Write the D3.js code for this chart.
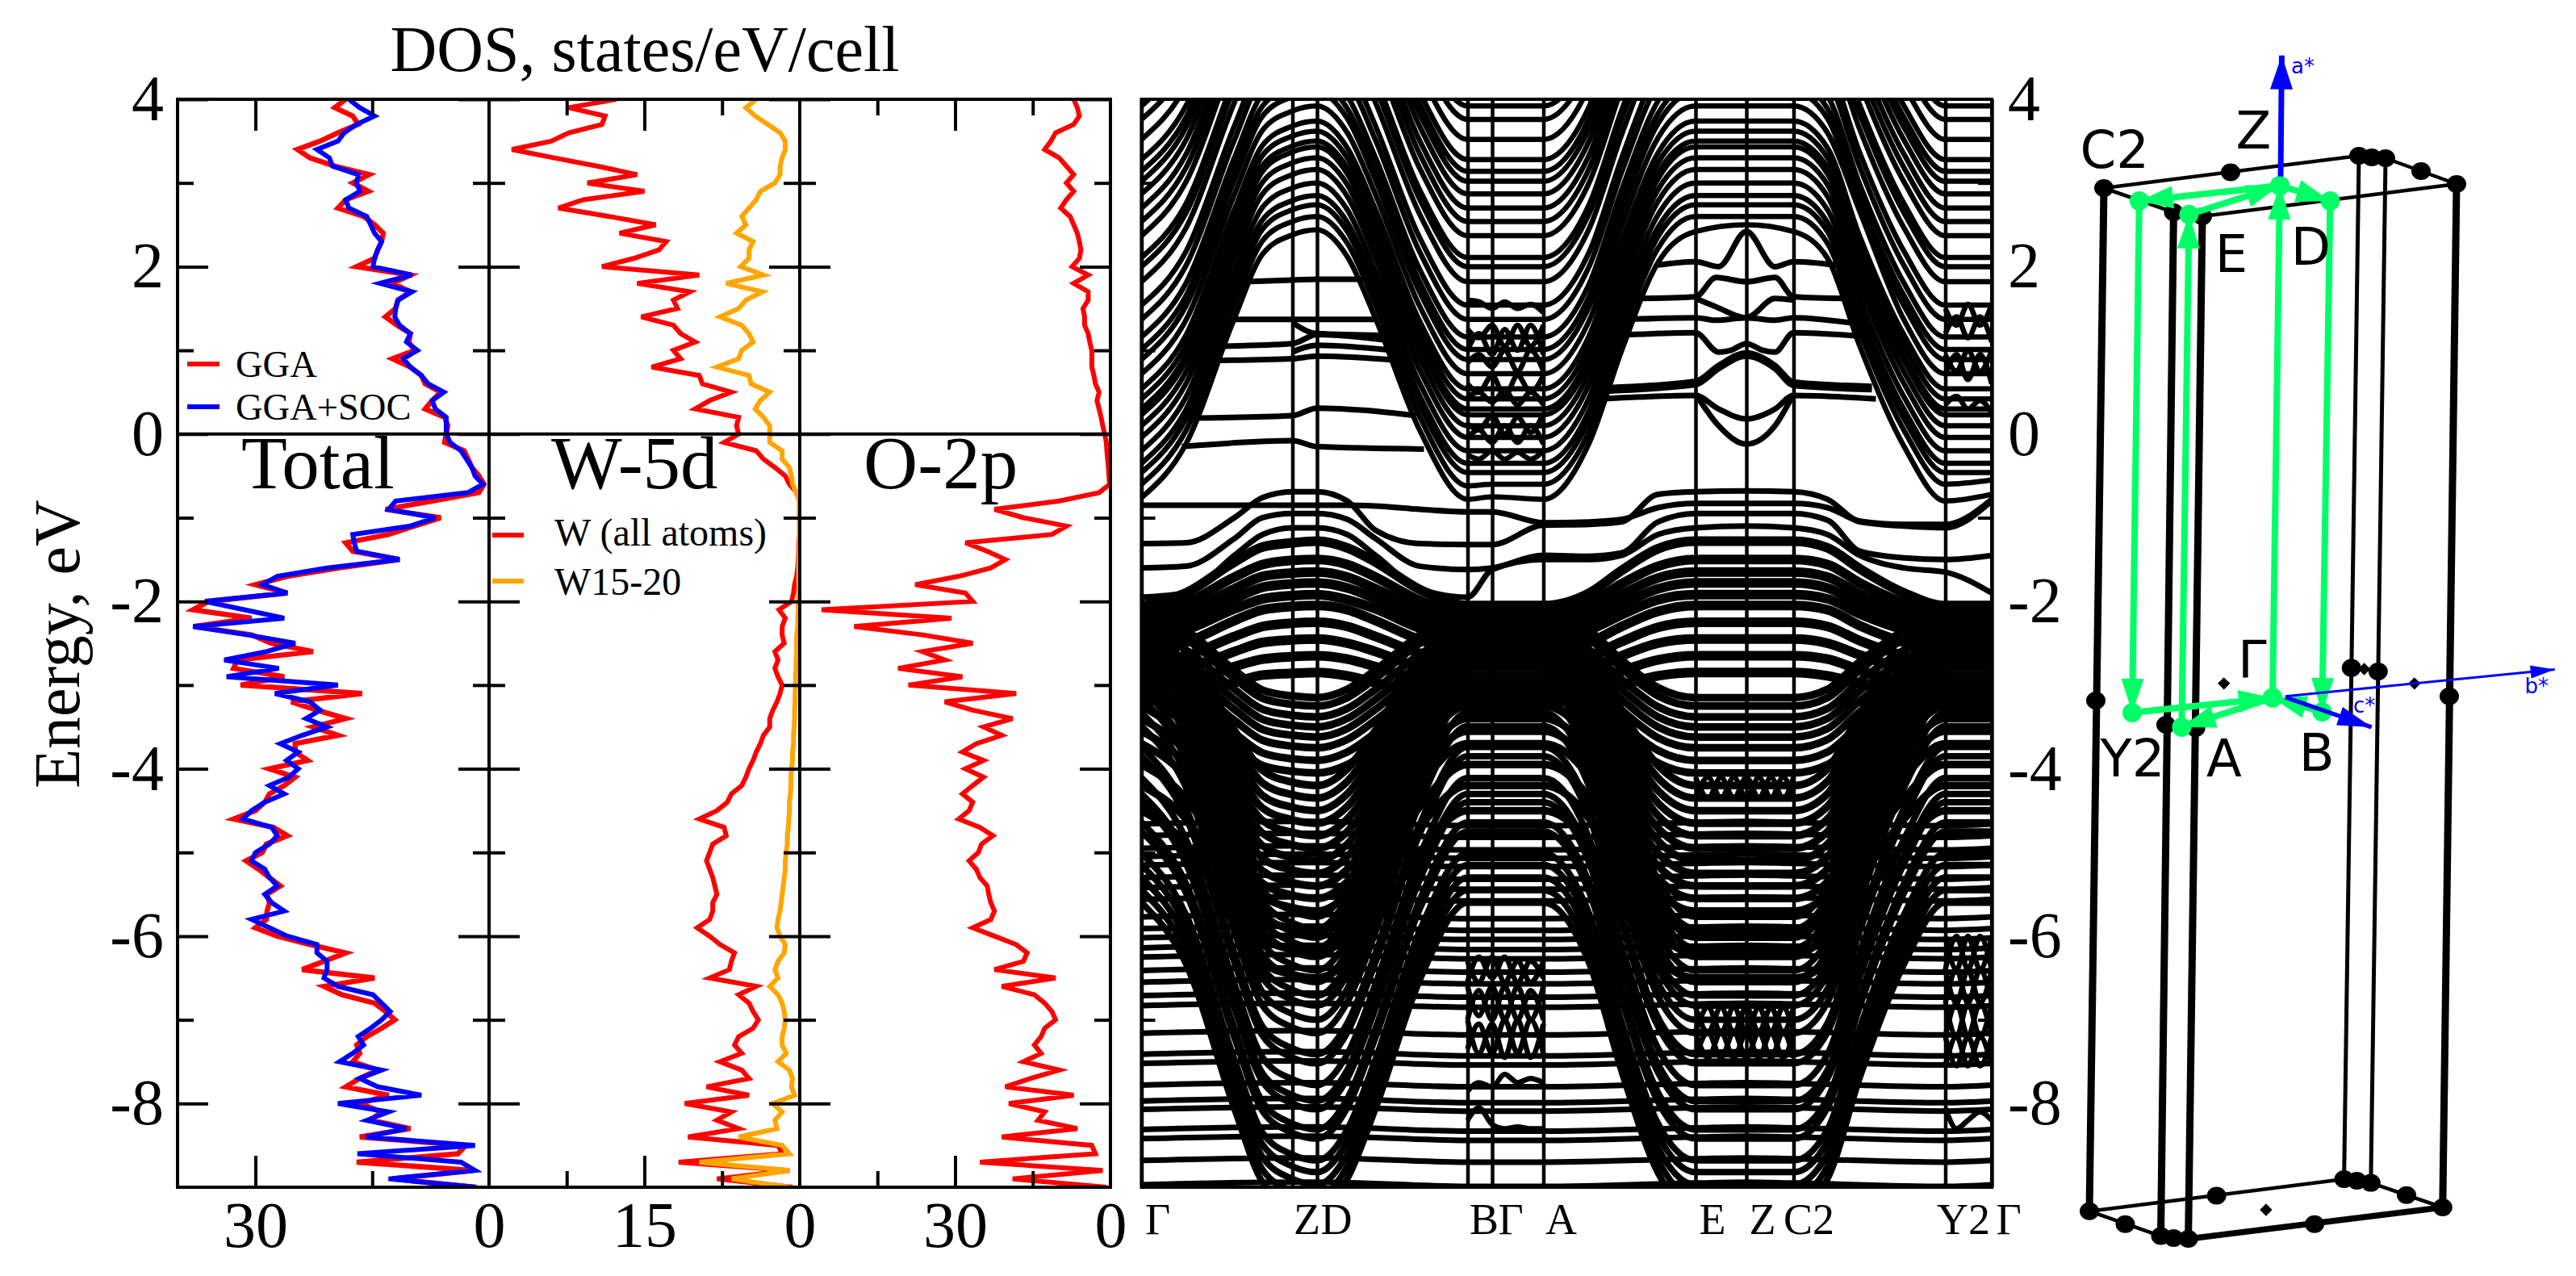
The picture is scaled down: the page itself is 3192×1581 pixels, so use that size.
<!DOCTYPE html>
<html>
<head>
<meta charset="utf-8">
<script src="https://cdn.jsdelivr.net/npm/d3@7"></script>
<style>
  body { margin: 0; background: #fff; }
  svg { display: block; }
  text { font-family: "Liberation Serif", serif; fill: #000; }
</style>
</head>
<body>
<div id="chart"></div>
<script>
// Energy grid shared by the DOS curves (eV)
var energyGrid = [
  4,3.9,3.8,3.7,3.6,3.5,3.4,3.3,3.2,3.1,3,2.9,2.8,2.7,2.6,2.5,2.4,2.3,2.2,2.1,
  2,1.9,1.8,1.7,1.6,1.5,1.4,1.3,1.2,1.1,1,.9,.8,.7,.6,.5,.4,.3,.2,.1,
  0,-.1,-.2,-.3,-.4,-.5,-.6,-.7,-.8,-.9,-1,-1.1,-1.2,-1.3,-1.4,-1.5,-1.6,-1.7,-1.8,-1.9,
  -2,-2.1,-2.2,-2.3,-2.4,-2.5,-2.6,-2.7,-2.8,-2.9,-3,-3.1,-3.2,-3.3,-3.4,-3.5,-3.6,-3.7,-3.8,-3.9,
  -4,-4.1,-4.2,-4.3,-4.4,-4.5,-4.6,-4.7,-4.8,-4.9,-5,-5.1,-5.2,-5.3,-5.4,-5.5,-5.6,-5.7,-5.8,-5.9,
  -6,-6.1,-6.2,-6.3,-6.4,-6.5,-6.6,-6.7,-6.8,-6.9,-7,-7.1,-7.2,-7.3,-7.4,-7.5,-7.6,-7.7,-7.8,-7.9,
  -8,-8.1,-8.2,-8.3,-8.4,-8.5,-8.6,-8.7,-8.8,-8.9,-9
];

// DOS curves, states/eV/cell, one value per energyGrid entry
var dosTotalGGA = [
  18.4,19.8,17.5,16.8,19.4,21.7,24.6,23,19.8,15.4,
  17.5,15.5,18.4,19.4,16.1,14.7,13.6,13.8,14.3,14.7,
  17,10.1,12.4,10.1,11.7,12,13.3,11.8,10.1,10.3,
  9.6,12.4,10.1,8.7,8.2,6.2,7.3,8.2,5.7,5.3,
  5.5,5.7,3.2,2.7,2.2,1.3,.65,1.3,7.3,13.3,
  6.2,9.6,12.9,18.4,17.5,11.5,19.4,25.9,30,25.9,
  36,38,30.5,37.9,30.5,28,22.6,32.3,32.8,26.3,
  31.9,16.3,25.4,22.1,18.4,22.6,19.4,24.9,24.9,23.3,
  28.2,24.9,26.3,28.2,28.8,30,32.8,27.7,25.9,28.6,
  29.1,31.2,29.6,28.2,26.8,28.5,28.2,28.5,28.6,30,
  27.2,23,18.4,21.2,24,14.7,21.2,18.9,14.7,13.3,
  12.1,13.8,15.7,17,16.6,17.5,14.3,16.6,18.4,12.9,
  16.6,13.8,15.2,10.1,16.6,3,4,17,2,12.4,1.8
];
var dosTotalSOC = [
  18,16.6,14.7,17,18.6,19.4,22.1,20.5,20.1,16.8,
  17,16.6,18.4,18,15.7,15.2,14.7,13.8,14.3,14.7,
  14.9,9.9,14,9.9,11.7,12,12.1,11.5,10.1,10.6,
  9.2,11,10.1,8.7,7.8,5.8,7.3,6.9,5.5,5.5,
  5.5,5,3.6,2.9,2.2,1.8,.8,2.7,12,12.9,
  6.9,10.1,17.5,17.3,17,11.5,20.8,27.2,29.1,25.9,
  36.5,31.4,26.3,38,31,24.9,28.6,34,27,33.7,
  19.4,27.5,23,21.7,23.5,20.8,24,26.8,24.5,26,
  24.5,25.7,28.2,26.3,28.8,30.5,31.6,27.9,27.2,28.2,
  30,30.5,28.8,28.2,27.2,28.8,27.9,26.3,30.5,28.2,
  25.9,22.1,22.1,20.8,20.8,21.2,19.4,14.9,13.8,12.7,
  13.8,15.2,16.8,16.1,17.5,19.2,13.8,16.6,14.3,8.7,
  19.4,12.9,15.7,10.6,15.8,1.8,16.9,3.6,1.8,12.9,1.6
];
var dosWAll = [
  17.7,22.3,18.8,19.1,22.3,24,27.8,23.7,19.5,15.7,
  20.5,15,20.9,23.3,18.4,13.9,17.4,12.9,13.6,16,
  19.1,9.7,15.7,10.6,12.2,11.8,15.3,12.2,11.5,10.1,
  12.2,11.5,14.3,9.7,9.4,6.6,8.7,10.1,5.9,6.1,
  5.9,7.3,4.2,3.5,2.4,1.4,1,.3,0,0,
  0,0,0,.1,.1,.15,.2,.3,.5,.6,
  .8,2,1.4,1.7,1.7,1.5,2.4,2.1,2.4,2.1,
  1.7,1.9,2.2,2.6,2.9,2.9,3.5,3.8,4.2,4.5,
  4.9,5.2,5.6,6.6,7,8,9.7,7.3,7.1,8.4,
  8.7,9,8.7,8.4,8.2,8,8.4,8.4,8.7,9.9,
  8.7,7.7,6.3,6.6,6.8,8.7,4.2,5.9,4.9,4.5,
  4,4.5,5.9,6.3,5.6,7.7,5.6,4.9,9,4.9,
  11.1,6.6,8,5.9,10.8,2.1,1.7,11.7,1,8,.7
];
var dosW1520 = [
  4.2,5.2,4.3,3.1,1.9,1.4,1.4,1.7,1.9,1.9,
  2.4,3.8,4.2,4.9,5.6,5.2,6.1,4.5,4.9,4.9,
  5.7,3.5,7.1,3.6,5.2,5.9,7.7,5.6,4.9,4.5,
  5.6,5.9,8,4.9,4.7,2.9,3.8,4.3,3.5,2.9,
  2.9,2.9,1.7,1.7,1,.8,.7,.35,.05,.05,
  .05,.05,.05,.05,.05,.1,.1,.1,.1,.1,
  .15,.15,.2,.2,.3,.3,.3,.35,.35,.4,
  .4,.45,.45,.5,.5,.55,.6,.6,.7,.7,
  .8,.85,.85,.9,1,1,1.05,1.1,1.2,1.2,
  1.3,1.4,1.4,1.5,1.6,1.7,1.8,1.9,2.1,2.2,
  1.9,1.4,1.5,2.1,2.4,2.1,2.9,2.1,1.7,1.5,
  1.4,1.5,1.7,1.7,1.3,2.1,1,.7,.8,.5,
  2.6,1.7,2.4,2.2,5.9,1.7,1,9.7,1,6.6,1
];
var dosO2p = [
  7.1,6.4,6,7.1,10.6,11.5,12.7,9.9,8.5,7.1,
  8.5,7.1,8.5,9.6,7.8,7.1,6.4,6,5.7,6,
  7.4,4.3,7.1,4.3,4.3,5.3,5,5,4.3,4,
  3.6,3.6,3.6,3.2,2.9,2.2,2.6,2.2,1.8,1.5,
  1.1,.8,.7,.55,.4,.3,.15,2.2,9.9,22.4,
  16.8,8.5,11.3,28,23.8,20.3,23.1,29.3,37.7,28,
  26.6,55.8,30.7,49.5,36.3,26.6,36.3,32,41,28.6,
  39,18.2,32,26.6,18.9,24.5,21,25.9,28.6,24.5,
  28,24.5,26.6,28.6,26.6,27.3,29.3,25.2,22.7,24.9,
  25.5,27.3,25.9,25.2,23.8,23.5,23.1,22.4,23.1,26.6,
  22.4,18.2,16.1,16.8,22.4,10.6,21,14.7,12.7,11.3,
  10.6,12.7,13.4,14.7,13.4,16.8,9.9,15.4,20.3,7.1,
  19.6,12.7,14,6.4,21,3.6,2.9,25.2,1.5,18.9,.8
];

// Band path: high symmetry points and where they sit along k
var pathK = [0,187,217.5,404,434.5,498,686.5,749.5,808,996,1053.5];
var pathLabels = ["Γ","Z","D","B","Γ","A","E","Z","C2","Y2","Γ"];

// k nodes for the dispersive bands
var bandK = [0,55,115,150,187,217.5,255,290,345,404,434.5,498,555,595,640,686.5,749.5,808,850,890,945,996,1053.5];

// Conduction side bands, energy at each bandK node (values above 4 run off the panel)
var bandsUpper = [
  [-.76,-.12,1.38,2.15,2.38,2.44,2.12,1.38,.04,-.78,-.75,-.78,-.1,1,2.05,2.42,2.5,2.42,2.1,1.05,-.15,-.8,-.72],
  [-.6,.04,1.54,2.31,2.54,2.6,2.28,1.54,.2,-.62,-.6,-.6,.04,1.16,2.22,2.6,2.6,2.6,2.28,1.22,.04,-.6,-.55],
  [-.46,.18,1.68,2.45,2.68,2.74,2.42,1.68,.34,-.46,-.46,-.46,.18,1.3,2.36,2.74,2.74,2.74,2.42,1.36,.18,-.46,-.46],
  [-.35,.29,1.79,2.56,2.79,2.85,2.53,1.79,.45,-.35,-.35,-.35,.29,1.41,2.47,2.85,2.85,2.85,2.53,1.47,.29,-.35,-.35],
  [-.2,.44,1.94,2.71,2.94,3,2.68,1.94,.6,-.2,-.2,-.2,.44,1.56,2.62,3,3,3,2.68,1.62,.44,-.2,-.2],
  [-.04,.6,2.1,2.87,3.1,3.16,2.84,2.1,.76,-.04,-.04,-.04,.6,1.72,2.78,3.16,3.16,3.16,2.84,1.78,.6,-.04,-.04],
  [.1,.74,2.24,3.01,3.24,3.3,2.98,2.24,.9,.1,.1,.1,.74,1.86,2.92,3.3,3.3,3.3,2.98,1.92,.74,.1,.1],
  [.23,.87,2.37,3.14,3.37,3.43,3.11,2.37,1.03,.23,.23,.23,.87,1.99,3.05,3.43,3.43,3.43,3.11,2.05,.87,.23,.23],
  [.3,.94,2.44,3.21,3.44,3.5,3.18,2.44,1.1,.3,.3,.3,.94,2.06,3.12,3.5,3.5,3.5,3.18,2.12,.94,.3,.3],
  [.42,1.06,2.56,3.33,3.56,3.62,3.3,2.56,1.22,.42,.42,.42,1.06,2.18,3.24,3.62,3.62,3.62,3.3,2.24,1.06,.42,.42],
  [.54,1.18,2.68,3.45,3.68,3.74,3.42,2.68,1.34,.54,.54,.54,1.18,2.3,3.36,3.74,3.74,3.74,3.42,2.36,1.18,.54,.54],
  [.72,1.36,2.86,3.63,3.86,3.92,3.6,2.86,1.52,.72,.72,.72,1.36,2.48,3.54,3.92,3.92,3.92,3.6,2.66,1.36,.72,.72],
  [.89,1.53,3.03,3.8,4.03,4.09,3.77,3.03,1.69,.89,.89,.89,1.53,2.65,3.71,4.09,4.09,4.09,3.77,2.71,1.53,.89,.89],
  [1.01,1.65,3.15,3.92,4.15,4.21,3.89,3.15,1.81,1.01,1.01,1.01,1.65,2.77,3.83,4.21,4.21,4.21,3.89,2.83,1.65,1.01,1.01],
  [1.16,1.8,3.3,4.07,4.3,4.36,4.04,3.3,1.96,1.16,1.16,1.16,1.8,2.92,3.98,4.36,4.36,4.36,4.04,2.98,1.8,1.16,1.16],
  [1.37,2.01,3.51,4.28,4.5,4.57,4.25,3.51,2.17,1.37,1.37,1.37,2.01,3.13,4.19,4.57,4.57,4.57,4.25,3.19,2.01,1.37,1.37],
  [1.54,2.18,3.68,4.45,4.68,4.74,4.42,3.68,2.34,1.54,1.54,1.54,2.18,3.3,4.36,4.74,4.74,4.74,4.42,3.36,2.18,1.54,1.54],
  [1.82,2.46,3.96,4.73,4.96,5.02,4.7,3.96,2.62,1.82,1.82,1.82,2.46,3.58,4.64,5.02,5.02,5.02,4.7,3.64,2.46,1.82,1.82],
  [2,2.64,4.14,4.91,5.14,5.2,4.88,4.14,2.8,2,2,2,2.64,3.76,4.82,5.2,5.2,5.2,4.88,3.82,2.64,2,2],
  [2.11,2.75,4.25,5.02,5.25,5.31,4.99,4.25,2.91,2.11,2.11,2.11,2.75,3.87,4.93,5.31,5.31,5.31,4.99,3.93,2.75,2.11,2.11],
  [2.37,3.01,4.51,5.28,5.51,5.57,5.25,4.51,3.17,2.37,2.37,2.37,3.01,4.13,5.19,5.57,5.57,5.57,5.25,4.19,3.01,2.37,2.37],
  [2.54,3.18,4.68,5.45,5.68,5.74,5.42,4.68,3.34,2.54,2.54,2.54,3.18,4.3,5.36,5.74,5.74,5.74,5.42,4.36,3.18,2.54,2.54],
  [2.7,3.34,4.84,5.61,5.84,5.9,5.58,4.84,3.5,2.7,2.7,2.7,3.34,4.46,5.52,5.9,5.9,5.9,5.58,4.52,3.34,2.7,2.7],
  [2.87,3.51,5.01,5.78,6.01,6.07,5.75,5.01,3.67,2.87,2.87,2.87,3.51,4.63,5.69,6.07,6.07,6.07,5.75,4.69,3.51,2.87,2.87],
  [3.02,3.66,5.16,5.9,6.1,6.2,5.9,5.16,3.82,3.02,3.02,3.02,3.66,4.78,5.8,6.2,6.2,6.2,5.9,4.84,3.66,3.02,3.02],
  [3.14,3.78,5.28,6,6.3,6.3,6,5.28,3.94,3.14,3.14,3.14,3.78,4.9,6,6.3,6.3,6.3,6,4.96,3.78,3.14,3.14],
  [3.28,3.92,5.42,6.2,6.4,6.5,6.2,5.42,4.08,3.28,3.28,3.28,3.92,5.04,6.1,6.5,6.5,6.5,6.2,5.1,3.92,3.28,3.28],
  [3.52,4.16,5.66,6.4,6.7,6.7,6.4,5.66,4.32,3.52,3.52,3.52,4.16,5.28,6.3,6.7,6.7,6.7,6.4,5.34,4.16,3.52,3.52],
  [3.76,4.4,5.9,6.6,6.9,6.9,6.6,5.9,4.56,3.76,3.76,3.76,4.4,5.5,6.5,6.9,6.9,6.9,6.6,5.6,4.4,3.76,3.76],
  [3.92,4.56,6,6.8,7,7,6.8,6,4.7,3.92,3.92,3.92,4.56,5.7,6.7,7,7,7,6.8,5.7,4.56,3.92,3.92]
];

// Top of the valence block: humps under Z-D and E-Z-C2
var bandsHumpTop = [
  [-1.31,-1.3,-1,-.76,-.69,-.69,-.8,-1.15,-1.31,-1.32,-1.32,-1.09,-1.08,-1.05,-.72,-.69,-.68,-.69,-.78,-1.05,-1.1,-1.12,-.8],
  [-.85,-.85,-.85,-.85,-.85,-.85,-.85,-.86,-.9,-.93,-.93,-1.06,-1.05,-1.02,-.88,-.83,-.83,-.83,-.88,-1.04,-1.08,-1.08,-.78],
  [-1.6,-1.58,-1.25,-1,-.95,-.95,-1.02,-1.25,-1.58,-1.62,-1.6,-1.45,-1.46,-1.42,-1.05,-.95,-.95,-.95,-1.03,-1.4,-1.48,-1.5,-1.45],
  [-1.95,-1.9,-1.45,-1.2,-1.12,-1.12,-1.2,-1.45,-1.85,-1.95,-1.62,-1.5,-1.5,-1.45,-1.2,-1.12,-1.1,-1.12,-1.2,-1.45,-1.6,-1.65,-1.9]
];
var bandsHumpLow = [
  [-2.05,-1.9,-1.53,-1.35,-1.3,-1.28,-1.36,-1.53,-1.86,-2.05,-2.05,-2.05,-1.9,-1.63,-1.37,-1.28,-1.28,-1.28,-1.36,-1.61,-1.9,-2.05,-2.05],
  [-2.15,-2.02,-1.71,-1.56,-1.51,-1.5,-1.56,-1.71,-1.99,-2.15,-2.15,-2.15,-2.02,-1.79,-1.58,-1.5,-1.5,-1.5,-1.56,-1.78,-2.02,-2.15,-2.15],
  [-2.25,-2.13,-1.85,-1.7,-1.66,-1.65,-1.71,-1.85,-2.1,-2.25,-2.25,-2.25,-2.13,-1.92,-1.72,-1.65,-1.65,-1.65,-1.71,-1.91,-2.13,-2.25,-2.25],
  [-2.35,-2.24,-1.97,-1.83,-1.79,-1.78,-1.84,-1.97,-2.21,-2.35,-2.35,-2.35,-2.24,-2.04,-1.85,-1.78,-1.78,-1.78,-1.84,-2.03,-2.24,-2.35,-2.35],
  [-2.45,-2.34,-2.09,-1.97,-1.93,-1.92,-1.98,-2.09,-2.32,-2.45,-2.45,-2.45,-2.34,-2.16,-1.98,-1.92,-1.92,-1.92,-1.97,-2.15,-2.34,-2.45,-2.45],
  [-2.6,-2.49,-2.23,-2.1,-2.06,-2.05,-2.1,-2.23,-2.46,-2.6,-2.6,-2.6,-2.49,-2.3,-2.12,-2.05,-2.05,-2.05,-2.1,-2.29,-2.49,-2.6,-2.6],
  [-2.75,-2.65,-2.42,-2.3,-2.26,-2.25,-2.3,-2.42,-2.62,-2.75,-2.75,-2.75,-2.65,-2.48,-2.31,-2.25,-2.25,-2.25,-2.3,-2.47,-2.65,-2.75,-2.75],
  [-2.9,-2.81,-2.6,-2.49,-2.46,-2.45,-2.5,-2.6,-2.79,-2.9,-2.9,-2.9,-2.81,-2.65,-2.5,-2.45,-2.45,-2.45,-2.5,-2.64,-2.81,-2.9,-2.9],
  [-3.05,-2.97,-2.78,-2.69,-2.66,-2.65,-2.69,-2.78,-2.95,-3.05,-3.05,-3.05,-2.97,-2.83,-2.7,-2.65,-2.65,-2.65,-2.69,-2.82,-2.97,-3.05,-3.05],
  [-3.2,-3.13,-2.97,-2.88,-2.86,-2.85,-2.89,-2.97,-3.11,-3.2,-3.2,-3.2,-3.13,-3,-2.89,-2.85,-2.85,-2.85,-2.89,-2.98,-3.13,-3.2,-3.2]
];

// Deep bands that plunge to the panel floor under Z-D and E-Z-C2
var bandsDeep = [
  [-5.6,-6.33,-8.06,-8.94,-9.2,-9.27,-8.9,-8.06,-6.52,-5.6,-5.6,-5.6,-6.33,-7.62,-8.83,-9.27,-9.27,-9.27,-8.9,-7.69,-6.33,-5.6,-5.6],
  [-5.45,-6.18,-7.91,-8.79,-9.05,-9.12,-8.75,-7.91,-6.37,-5.45,-5.45,-5.45,-6.18,-7.47,-8.68,-9.12,-9.12,-9.12,-8.75,-7.54,-6.18,-5.45,-5.45],
  [-5.3,-6.03,-7.76,-8.64,-8.9,-8.97,-8.6,-7.76,-6.22,-5.3,-5.3,-5.3,-6.03,-7.32,-8.53,-8.97,-8.97,-8.97,-8.6,-7.39,-6.03,-5.3,-5.3],
  [-5.15,-5.88,-7.61,-8.49,-8.75,-8.82,-8.45,-7.61,-6.07,-5.15,-5.15,-5.15,-5.88,-7.17,-8.38,-8.82,-8.82,-8.82,-8.45,-7.24,-5.88,-5.15,-5.15],
  [-5.01,-5.74,-7.47,-8.35,-8.61,-8.68,-8.31,-7.47,-5.93,-5.01,-5.01,-5.01,-5.74,-7.03,-8.24,-8.68,-8.68,-8.68,-8.31,-7.1,-5.74,-5.01,-5.01],
  [-4.75,-5.48,-7.21,-8.09,-8.35,-8.42,-8.05,-7.21,-5.67,-4.75,-4.75,-4.75,-5.48,-6.77,-7.98,-8.42,-8.42,-8.42,-8.05,-6.84,-5.48,-4.75,-4.75],
  [-4.64,-5.37,-7.1,-7.98,-8.24,-8.31,-7.94,-7.1,-5.56,-4.64,-4.64,-4.64,-5.37,-6.66,-7.87,-8.31,-8.31,-8.31,-7.94,-6.73,-5.37,-4.64,-4.64],
  [-4.4,-5.13,-6.86,-7.74,-8,-8.07,-7.7,-6.86,-5.32,-4.4,-4.4,-4.4,-5.13,-6.42,-7.63,-8.07,-8.07,-8.07,-7.7,-6.49,-5.13,-4.4,-4.4],
  [-4.3,-5.03,-6.76,-7.64,-7.9,-7.97,-7.6,-6.76,-5.22,-4.3,-4.3,-4.3,-5.03,-6.32,-7.53,-7.97,-7.97,-7.97,-7.6,-6.39,-5.03,-4.3,-4.3],
  [-4.11,-4.84,-6.57,-7.45,-7.71,-7.78,-7.41,-6.57,-5.03,-4.11,-4.11,-4.11,-4.84,-6.13,-7.34,-7.78,-7.78,-7.78,-7.41,-6.2,-4.84,-4.11,-4.11],
  [-3.85,-4.58,-6.31,-7.19,-7.45,-7.52,-7.15,-6.31,-4.77,-3.85,-3.85,-3.85,-4.58,-5.87,-7.08,-7.52,-7.52,-7.52,-7.15,-5.94,-4.58,-3.85,-3.85],
  [-3.74,-4.47,-6.2,-7.08,-7.34,-7.41,-7.04,-6.2,-4.66,-3.74,-3.74,-3.74,-4.47,-5.76,-6.97,-7.41,-7.41,-7.41,-7.04,-5.83,-4.47,-3.74,-3.74],
  [-3.49,-4.22,-5.95,-6.83,-7.09,-7.16,-6.79,-5.95,-4.41,-3.49,-3.49,-3.49,-4.22,-5.51,-6.72,-7.16,-7.16,-7.16,-6.79,-5.58,-4.22,-3.49,-3.49],
  [-3.33,-4.06,-5.79,-6.67,-6.93,-7,-6.63,-5.79,-4.25,-3.33,-3.33,-3.33,-4.06,-5.35,-6.56,-7,-7,-7,-6.63,-5.42,-4.06,-3.33,-3.33],
  [-3.16,-3.89,-5.62,-6.5,-6.76,-6.83,-6.46,-5.62,-4.08,-3.16,-3.16,-3.16,-3.89,-5.18,-6.39,-6.83,-6.83,-6.83,-6.46,-5.25,-3.89,-3.16,-3.16],
  [-3.04,-3.77,-5.5,-6.38,-6.64,-6.71,-6.34,-5.5,-3.96,-3.04,-3.04,-3.04,-3.77,-5.06,-6.27,-6.71,-6.71,-6.71,-6.34,-5.13,-3.77,-3.04,-3.04],
  [-2.88,-3.61,-5.34,-6.22,-6.48,-6.55,-6.18,-5.34,-3.8,-2.88,-2.88,-2.88,-3.61,-4.9,-6.11,-6.55,-6.55,-6.55,-6.18,-4.97,-3.61,-2.88,-2.88],
  [-2.74,-3.47,-5.2,-6.08,-6.34,-6.41,-6.04,-5.2,-3.66,-2.74,-2.74,-2.74,-3.47,-4.76,-5.97,-6.41,-6.41,-6.41,-6.04,-4.83,-3.47,-2.74,-2.74],
  [-2.58,-3.31,-5.04,-5.92,-6.18,-6.25,-5.88,-5.04,-3.5,-2.58,-2.58,-2.58,-3.31,-4.6,-5.81,-6.25,-6.25,-6.25,-5.88,-4.67,-3.31,-2.58,-2.58],
  [-2.47,-3.2,-4.93,-5.81,-6.07,-6.14,-5.77,-4.93,-3.39,-2.47,-2.47,-2.47,-3.2,-4.49,-5.7,-6.14,-6.14,-6.14,-5.77,-4.56,-3.2,-2.47,-2.47],
  [-2.35,-3.08,-4.81,-5.69,-5.95,-6.02,-5.65,-4.81,-3.27,-2.35,-2.35,-2.35,-3.08,-4.37,-5.58,-6.02,-6.02,-6.02,-5.65,-4.44,-3.08,-2.35,-2.35],
  [-2.24,-2.97,-4.7,-5.58,-5.84,-5.91,-5.54,-4.7,-3.16,-2.24,-2.24,-2.24,-2.97,-4.26,-5.47,-5.91,-5.91,-5.91,-5.54,-4.33,-2.97,-2.24,-2.24],
  [-2.1,-2.83,-4.56,-5.44,-5.7,-5.77,-5.4,-4.56,-3.02,-2.1,-2.1,-2.1,-2.83,-4.12,-5.33,-5.77,-5.77,-5.77,-5.4,-4.19,-2.83,-2.1,-2.1]
];

// Middle bands, shallower dips
var bandsMid = [
  [-4.5,-4.9,-5.84,-6.32,-6.46,-6.5,-6.3,-5.84,-5,-4.5,-4.5,-4.5,-4.9,-5.6,-6.26,-6.5,-6.5,-6.5,-6.3,-5.64,-4.9,-4.5,-4.5],
  [-4.2,-4.6,-5.54,-6.02,-6.16,-6.2,-6,-5.54,-4.7,-4.2,-4.2,-4.2,-4.6,-5.3,-5.96,-6.2,-6.2,-6.2,-6,-5.34,-4.6,-4.2,-4.2],
  [-3.95,-4.35,-5.29,-5.77,-5.91,-5.95,-5.75,-5.29,-4.45,-3.95,-3.95,-3.95,-4.35,-5.05,-5.71,-5.95,-5.95,-5.95,-5.75,-5.09,-4.35,-3.95,-3.95],
  [-3.7,-4.1,-5.04,-5.52,-5.66,-5.7,-5.5,-5.04,-4.2,-3.7,-3.7,-3.7,-4.1,-4.8,-5.46,-5.7,-5.7,-5.7,-5.5,-4.84,-4.1,-3.7,-3.7],
  [-3.55,-3.95,-4.89,-5.37,-5.51,-5.55,-5.35,-4.89,-4.05,-3.55,-3.55,-3.55,-3.95,-4.65,-5.31,-5.55,-5.55,-5.55,-5.35,-4.69,-3.95,-3.55,-3.55],
  [-3.4,-3.8,-4.74,-5.22,-5.36,-5.4,-5.2,-4.74,-3.9,-3.4,-3.4,-3.4,-3.8,-4.5,-5.16,-5.4,-5.4,-5.4,-5.2,-4.54,-3.8,-3.4,-3.4],
  [-3.25,-3.65,-4.59,-5.07,-5.21,-5.25,-5.05,-4.59,-3.75,-3.25,-3.25,-3.25,-3.65,-4.35,-5.01,-5.25,-5.25,-5.25,-5.05,-4.39,-3.65,-3.25,-3.25],
  [-3.1,-3.5,-4.44,-4.92,-5.06,-5.1,-4.9,-4.44,-3.6,-3.1,-3.1,-3.1,-3.5,-4.2,-4.86,-5.1,-5.1,-5.1,-4.9,-4.24,-3.5,-3.1,-3.1],
  [-2.95,-3.35,-4.29,-4.77,-4.91,-4.95,-4.75,-4.29,-3.45,-2.95,-2.95,-2.95,-3.35,-4.05,-4.71,-4.95,-4.95,-4.95,-4.75,-4.09,-3.35,-2.95,-2.95],
  [-2.8,-3.2,-4.14,-4.62,-4.76,-4.8,-4.6,-4.14,-3.3,-2.8,-2.8,-2.8,-3.2,-3.9,-4.56,-4.8,-4.8,-4.8,-4.6,-3.94,-3.2,-2.8,-2.8],
  [-2.65,-3.05,-3.99,-4.47,-4.61,-4.65,-4.45,-3.99,-3.15,-2.65,-2.65,-2.65,-3.05,-3.75,-4.41,-4.65,-4.65,-4.65,-4.45,-3.79,-3.05,-2.65,-2.65],
  [-2.5,-2.9,-3.84,-4.32,-4.46,-4.5,-4.3,-3.84,-3,-2.5,-2.5,-2.5,-2.9,-3.6,-4.26,-4.5,-4.5,-4.5,-4.3,-3.64,-2.9,-2.5,-2.5],
  [-2.35,-2.75,-3.69,-4.17,-4.31,-4.35,-4.15,-3.69,-2.85,-2.35,-2.35,-2.35,-2.75,-3.45,-4.11,-4.35,-4.35,-4.35,-4.15,-3.49,-2.75,-2.35,-2.35],
  [-2.2,-2.6,-3.54,-4.02,-4.16,-4.2,-4,-3.54,-2.7,-2.2,-2.2,-2.2,-2.6,-3.3,-3.96,-4.2,-4.2,-4.2,-4,-3.34,-2.6,-2.2,-2.2],
  [-3.05,-3.25,-3.72,-3.96,-4.03,-4.05,-3.95,-3.72,-3.3,-3.05,-3.05,-3.05,-3.25,-3.6,-3.93,-4.05,-4.05,-4.05,-3.95,-3.62,-3.25,-3.05,-3.05],
  [-2.9,-3.1,-3.57,-3.81,-3.88,-3.9,-3.8,-3.57,-3.15,-2.9,-2.9,-2.9,-3.1,-3.45,-3.78,-3.9,-3.9,-3.9,-3.8,-3.47,-3.1,-2.9,-2.9],
  [-2.75,-2.95,-3.42,-3.66,-3.73,-3.75,-3.65,-3.42,-3,-2.75,-2.75,-2.75,-2.95,-3.3,-3.63,-3.75,-3.75,-3.75,-3.65,-3.32,-2.95,-2.75,-2.75],
  [-2.62,-2.82,-3.29,-3.53,-3.6,-3.62,-3.52,-3.29,-2.87,-2.62,-2.62,-2.62,-2.82,-3.17,-3.5,-3.62,-3.62,-3.62,-3.52,-3.19,-2.82,-2.62,-2.62],
  [-2.5,-2.7,-3.17,-3.41,-3.48,-3.5,-3.4,-3.17,-2.75,-2.5,-2.5,-2.5,-2.7,-3.05,-3.38,-3.5,-3.5,-3.5,-3.4,-3.07,-2.7,-2.5,-2.5],
  [-2.38,-2.58,-3.05,-3.29,-3.36,-3.38,-3.28,-3.05,-2.63,-2.38,-2.38,-2.38,-2.58,-2.93,-3.26,-3.38,-3.38,-3.38,-3.28,-2.95,-2.58,-2.38,-2.38],
  [-2.25,-2.45,-2.92,-3.16,-3.23,-3.25,-3.15,-2.92,-2.5,-2.25,-2.25,-2.25,-2.45,-2.8,-3.13,-3.25,-3.25,-3.25,-3.15,-2.82,-2.45,-2.25,-2.25],
  [-2.15,-2.35,-2.82,-3.06,-3.13,-3.15,-3.05,-2.82,-2.4,-2.15,-2.15,-2.15,-2.35,-2.7,-3.03,-3.15,-3.15,-3.15,-3.05,-2.72,-2.35,-2.15,-2.15]
];

// Nearly flat lower bands, energy at each pathK point
var bandsFlat = [
  [-8.97,-8.94,-8.94,-8.99,-8.99,-8.99,-8.95,-8.94,-8.95,-8.99,-8.97],
  [-8.68,-8.65,-8.65,-8.7,-8.7,-8.7,-8.66,-8.65,-8.66,-8.7,-8.68],
  [-8.42,-8.39,-8.39,-8.44,-8.44,-8.44,-8.4,-8.39,-8.4,-8.44,-8.42],
  [-8.31,-8.28,-8.28,-8.33,-8.33,-8.33,-8.29,-8.28,-8.29,-8.33,-8.31],
  [-8.07,-8.04,-8.04,-8.09,-8.09,-8.09,-8.05,-8.04,-8.05,-8.09,-8.07],
  [-7.97,-7.94,-7.94,-7.99,-7.99,-7.99,-7.95,-7.94,-7.95,-7.99,-7.97],
  [-7.78,-7.75,-7.75,-7.8,-7.8,-7.8,-7.76,-7.75,-7.76,-7.8,-7.78],
  [-7.52,-7.49,-7.49,-7.54,-7.54,-7.54,-7.5,-7.49,-7.5,-7.54,-7.52],
  [-7.41,-7.38,-7.38,-7.43,-7.43,-7.43,-7.39,-7.38,-7.39,-7.43,-7.41],
  [-7.16,-7.13,-7.13,-7.18,-7.18,-7.18,-7.14,-7.13,-7.14,-7.18,-7.16],
  [-6.83,-6.8,-6.8,-6.85,-6.85,-6.85,-6.81,-6.8,-6.81,-6.85,-6.83],
  [-6.71,-6.68,-6.68,-6.73,-6.73,-6.73,-6.69,-6.68,-6.69,-6.73,-6.71],
  [-6.55,-6.52,-6.52,-6.57,-6.57,-6.57,-6.53,-6.52,-6.53,-6.57,-6.55],
  [-6.41,-6.38,-6.38,-6.43,-6.43,-6.43,-6.39,-6.38,-6.39,-6.43,-6.41],
  [-6.25,-6.22,-6.22,-6.27,-6.27,-6.27,-6.23,-6.22,-6.23,-6.27,-6.25],
  [-6.14,-6.11,-6.11,-6.16,-6.16,-6.16,-6.12,-6.11,-6.12,-6.16,-6.14],
  [-6.02,-5.99,-5.99,-6.04,-6.04,-6.04,-6,-5.99,-6,-6.04,-6.02],
  [-5.91,-5.88,-5.88,-5.93,-5.93,-5.93,-5.89,-5.88,-5.89,-5.93,-5.91],
  [-5.77,-5.74,-5.74,-5.79,-5.79,-5.79,-5.75,-5.74,-5.75,-5.79,-5.77],
  [-5.56,-5.53,-5.53,-5.58,-5.58,-5.58,-5.54,-5.53,-5.54,-5.58,-5.56],
  [-5.42,-5.39,-5.39,-5.44,-5.44,-5.44,-5.4,-5.39,-5.4,-5.44,-5.42],
  [-5.3,-5.27,-5.27,-5.32,-5.32,-5.32,-5.28,-5.27,-5.28,-5.32,-5.3],
  [-5.15,-5.12,-5.12,-5.17,-5.17,-5.17,-5.13,-5.12,-5.13,-5.17,-5.15],
  [-5.05,-5.02,-5.02,-5.07,-5.07,-5.07,-5.03,-5.02,-5.03,-5.07,-5.05],
  [-4.95,-4.92,-4.92,-4.97,-4.97,-4.97,-4.93,-4.92,-4.93,-4.97,-4.95],
  [-4.8,-4.77,-4.77,-4.82,-4.82,-4.82,-4.78,-4.77,-4.78,-4.82,-4.8],
  [-4.66,-4.63,-4.63,-4.68,-4.68,-4.68,-4.64,-4.63,-4.64,-4.68,-4.66]
];

// Flat and split bands crossing the two domes: [k nodes, energies]
var domeSegments = [
  [[125,187,217.5,280],[1.82,1.84,1.85,1.85]],
  [[115,187,217.5,292],[1.37,1.37,1.37,1.37]],
  [[187,217.5,300],[1.33,1.2,1.18]],
  [[100,187,217.5,305],[1.05,1.08,1.19,1.12]],
  [[187,217.5,310],[.98,1.06,1]],
  [[90,187,217.5,320],[.88,.9,.93,.88]],
  [[60,187,217.5,340],[.19,.22,.31,.22]],
  [[50,187,217.5,350],[-.15,-.08,-.15,-.18]],
  [[640,686.5,715,749.5,785,808,860],[2.02,2.06,2,2.42,2,2.06,2.02]],
  [[615,686.5,712,749.5,785,808,875],[1.62,1.64,1.87,1.82,1.87,1.64,1.62]],
  [[686.5,712,749.5,785,808],[1.62,1.52,1.39,1.62,1.6]],
  [[600,686.5,712,749.5,785,808,885],[1.37,1.39,1.36,1.39,1.36,1.39,1.32]],
  [[590,686.5,715,730,749.5,770,785,808,890],[1.18,1.21,.98,1,1.08,1,.98,1.21,1.17]],
  [[565,686.5,715,749.5,785,808,905],[.55,.63,.82,.97,.82,.62,.57]],
  [[565,686.5,715,749.5,785,808,905],[.51,.59,.78,.93,.78,.58,.53]],
  [[570,686.5,715,749.5,785,808,910],[.42,.46,.3,.18,.3,.46,.42]],
  [[686.5,715,749.5,785,808],[.48,.1,-.12,.1,.48]]
];

// Woven bands in the three short sections of the path
var weaveK1 = [404,418,434.5,450,466,482,498];
var weaveE1 = [
  [1.6,1.58,1.5,1.58,1.5,1.55,1.45],
  [1.25,1.15,1.3,1.05,1.3,1.05,1.3],
  [1,1.2,.95,1.25,1,1.3,.95],
  [.85,.95,.8,1,.75,1,.75],
  [.6,.5,.7,.45,.7,.5,.7],
  [.45,.5,.38,.52,.35,.5,.35],
  [.12,.05,.22,0,.2,.02,.25],
  [-.05,.05,-.1,.1,-.1,.1,-.12],
  [-.25,-.3,-.2,-.3,-.22,-.3,-.2],
  [-6.6,-6.95,-6.6,-7,-6.6,-7,-6.6],
  [-7,-6.65,-7,-6.6,-7,-6.65,-7],
  [-7.35,-7.05,-7.4,-7,-7.4,-7,-7.4],
  [-7,-7.4,-7.05,-7.45,-7,-7.45,-7.05],
  [-6.3,-6.55,-6.25,-6.55,-6.3,-6.55,-6.3],
  [-6.55,-6.25,-6.5,-6.25,-6.55,-6.3,-6.5],
  [-7.85,-7.75,-7.8,-7.65,-7.75,-7.7,-7.75],
  [-8.2,-8.05,-8.25,-8.3,-8.28,-8.3,-8.3]
];
var weaveK2 = [686.5,702,718,734,749.5,765,780,795,808];
var weaveE2 = [
  [-6.85,-7.15,-6.85,-7.15,-6.85,-7.15,-6.85,-7.15,-6.85],
  [-7.15,-6.85,-7.15,-6.85,-7.15,-6.85,-7.15,-6.85,-7.15],
  [-7.15,-7.45,-7.15,-7.45,-7.15,-7.45,-7.15,-7.45,-7.15],
  [-7.45,-7.15,-7.45,-7.15,-7.45,-7.15,-7.45,-7.15,-7.45],
  [-4.1,-4.35,-4.1,-4.35,-4.1,-4.35,-4.1,-4.35,-4.1],
  [-4.35,-4.1,-4.35,-4.1,-4.35,-4.1,-4.35,-4.1,-4.35]
];
var weaveK3 = [996,1010,1024,1039,1053.5];
var weaveE3 = [
  [1.5,1.3,1.55,1.3,1.55],
  [1.2,1.4,1.15,1.4,1.1],
  [.95,.75,1,.75,1],
  [.7,.95,.65,.95,.6],
  [.35,.45,.3,.4,.25],
  [-6,-6.4,-6,-6.4,-6],
  [-6.4,-6,-6.4,-6,-6.4],
  [-6.4,-6.8,-6.4,-6.8,-6.4],
  [-6.8,-6.4,-6.8,-6.4,-6.8],
  [-6.8,-7.2,-6.8,-7.2,-6.8],
  [-7.2,-6.8,-7.2,-6.8,-7.2],
  [-7.2,-7.55,-7.2,-7.55,-7.2],
  [-7.55,-7.2,-7.55,-7.2,-7.55],
  [-8.05,-8.3,-8.2,-8.1,-8.2]
];

// Brillouin zone sketch, points in picture units
var zoneHeavy = [[127,233,109,1500.7],[213.4,263,197.5,1531.5],[249,268,231.6,1535],[564,228,546.8,1496]];
var zoneLight = [[443,193,424.6,1461],[476,196,457.8,1465.6]];
var zoneEdges = [[127,233,443,193],[127,233,213.4,263],[249,268,564,228],[476,196,564,228],[109,1500.7,424.6,1461],[109,1500.7,197.5,1531.5],[457.8,1465.6,546.8,1496]];
var zoneFrontEdge = [[231.6,1535,546.8,1496]];
var zoneDots = [[127,233],[213.4,263],[249,268],[564,228],[443,193],[459,195],[476,196],[284,213.5],[520,212],
  [117,868],[204,898],[240.7,902],[555,862.7],[433.7,827.6],[466.8,832],
  [109,1500.7],[197.5,1531.5],[213.4,1534],[231.6,1535],[546.8,1496],[424.6,1461],[440.5,1463],[457.8,1465.6],[266.6,1481.5],[153.5,1516.7],[388,1516.7],[502,1480.7]];
var zoneDiamonds = [[327.9,1499],[275.7,846.8],[449.6,829],[511.8,846.8]];
var zonePath = [[336,864.6],[345,230],[407.4,249],[397.4,882],[336,864.6],[223.4,901],[232.5,265.8],[345,230],[170.8,249],[162,883],[336,864.6]];
var zoneVectors = [[346,218.6,347.4,68.7],[352,862.7,685.7,829.5],[352,864,458.7,901]];
var zoneLabels = ["C2","Z","E","D","Γ","Y2","A","B"];
var zoneLabelSpots = [[97.6,207.7],[290.6,183.5],[264.8,336.6],[358.8,328],[293,840],[122.6,961.6],[254,961.6],[368.8,955]];
var vectorLabels = ["a*","b*","c*"];
var vectorLabelSpots = [[359,91],[648.5,859],[436,883]];

// Tick values
var energyMajor = [4,2,0,-2,-4,-6,-8];
var energyMinor = [3,1,-1,-3,-5,-7];

// Page setup
var svgWidth = 3192;
var svgHeight = 1581;
var lineFrame = 4;

var svg = d3.select("#chart")
  .append("svg")
  .attr("width", svgWidth)
  .attr("height", svgHeight);

svg.append("rect").attr("width", svgWidth).attr("height", svgHeight).attr("fill", "#fff");

// Shared energy scale
var yEnergy = d3.scaleLinear().domain([-9, 4]).range([1471, 123]);

// One scale per DOS panel, values grow to the left
var xTotal = d3.scaleLinear().domain([40, 0]).range([220, 606]);
var xW = d3.scaleLinear().domain([30, 0]).range([606, 991]);
var xO = d3.scaleLinear().domain([60, 0]).range([991, 1376]);
var xBand = d3.scaleLinear().domain([0, 1053.5]).range([1414.5, 2468]);

var zoneX = d3.scaleLinear().domain([0, 712]).range([2480, 3192]);
var zoneY = d3.scaleLinear().domain([0, 1581]).range([0, 1581]);

var defs = svg.append("defs");
[["clipTotal", xTotal], ["clipW", xW], ["clipO", xO], ["clipBand", xBand]].forEach(function(c) {
  var r = c[1].range();
  defs.append("clipPath").attr("id", c[0]).append("rect")
    .attr("x", r[0]).attr("y", yEnergy(4))
    .attr("width", r[1] - r[0]).attr("height", yEnergy(-9) - yEnergy(4));
});

function styleAxis(g, width) {
  g.select(".domain").remove();
  g.selectAll("line").attr("stroke", "#000").attr("stroke-width", width);
  return g;
}

// Draw one DOS curve
function drawDos(xScale, values, color, clipId, width) {
  var line = d3.line()
    .x(d => xScale(d[0]))
    .y(d => yEnergy(d[1]));
  svg.append("path")
    .datum(values.map((v, i) => [v, energyGrid[i]]))
    .attr("fill", "none")
    .attr("stroke", color)
    .attr("stroke-width", width)
    .attr("clip-path", "url(#" + clipId + ")")
    .attr("d", line);
}

drawDos(xTotal, dosTotalGGA, "#ff0000", "clipTotal", 6.5);
drawDos(xTotal, dosTotalSOC, "#0000ff", "clipTotal", 6);
drawDos(xW, dosWAll, "#ff0000", "clipW", 6);
drawDos(xW, dosW1520, "#ffa500", "clipW", 6);
drawDos(xO, dosO2p, "#ff0000", "clipO", 6);

// Frames and ticks of the DOS panels
function panelAxes(xScale, major, minor, g) {
  var r = xScale.range();
  [[d3.axisLeft, r[0], 1], [d3.axisRight, r[1], -1]].forEach(function(side) {
    styleAxis(g.append("g").attr("transform", `translate(${side[1]},0)`)
      .call(side[0](yEnergy).tickValues(energyMajor).tickSize(-38 * 1).tickFormat("")), lineFrame);
    styleAxis(g.append("g").attr("transform", `translate(${side[1]},0)`)
      .call(side[0](yEnergy).tickValues(energyMinor).tickSize(-20).tickFormat("")), lineFrame);
  });
  [[d3.axisBottom, yEnergy(-9)], [d3.axisTop, yEnergy(4)]].forEach(function(side) {
    styleAxis(g.append("g").attr("transform", `translate(0,${side[1]})`)
      .call(side[0](xScale).tickValues(major).tickSize(-39).tickFormat("")), lineFrame);
    styleAxis(g.append("g").attr("transform", `translate(0,${side[1]})`)
      .call(side[0](xScale).tickValues(minor).tickSize(-20).tickFormat("")), lineFrame);
  });
  g.append("rect")
    .attr("x", r[0]).attr("y", yEnergy(4))
    .attr("width", r[1] - r[0]).attr("height", yEnergy(-9) - yEnergy(4))
    .attr("fill", "none").attr("stroke", "#000").attr("stroke-width", lineFrame);
  // Fermi level
  g.append("line")
    .attr("x1", r[0]).attr("x2", r[1])
    .attr("y1", yEnergy(0)).attr("y2", yEnergy(0))
    .attr("stroke", "#000").attr("stroke-width", lineFrame);
}

var axesGroup = svg.append("g");
panelAxes(xTotal, [30], [15], axesGroup);
panelAxes(xW, [15], [7.5, 22.5], axesGroup);
panelAxes(xO, [30], [15, 45], axesGroup);

// Tick labels
function labelAxis(axis, transform, size) {
  var g = svg.append("g").attr("transform", transform).call(axis);
  g.select(".domain").remove();
  g.selectAll("line").remove();
  g.selectAll("text").attr("font-family", "Liberation Serif").attr("font-size", size).attr("fill", "#000");
  return g;
}

labelAxis(d3.axisLeft(yEnergy).tickValues(energyMajor).tickSize(0).tickPadding(17).tickFormat(String), "translate(220,0)", 80);
labelAxis(d3.axisBottom(xTotal).tickValues([30, 0]).tickSize(0).tickPadding(17).tickFormat(String), `translate(0,${yEnergy(-9)})`, 80);
labelAxis(d3.axisBottom(xW).tickValues([15, 0]).tickSize(0).tickPadding(17).tickFormat(String), `translate(0,${yEnergy(-9)})`, 80);
labelAxis(d3.axisBottom(xO).tickValues([30, 0]).tickSize(0).tickPadding(17).tickFormat(String), `translate(0,${yEnergy(-9)})`, 80);
labelAxis(d3.axisRight(yEnergy).tickValues(energyMajor).tickSize(0).tickPadding(20).tickFormat(String), "translate(2468,0)", 80);

// Titles
svg.append("text").attr("x", 799).attr("y", 88).attr("text-anchor", "middle")
  .attr("font-size", 80).text("DOS, states/eV/cell");
svg.append("text").attr("transform", "translate(98,798) rotate(-90)").attr("text-anchor", "middle")
  .attr("font-size", 80).text("Energy, eV");

[["Total", 299], ["W-5d", 683], ["O-2p", 1070]].forEach(function(d) {
  svg.append("text").attr("x", d[1]).attr("y", 605).attr("font-size", 93).text(d[0]);
});

// Legends
function legendRow(x1, x2, y, color, label, textX, baseline, size) {
  svg.append("line").attr("x1", x1).attr("x2", x2).attr("y1", y).attr("y2", y)
    .attr("stroke", color).attr("stroke-width", 6);
  svg.append("text").attr("x", textX).attr("y", baseline).attr("font-size", size).text(label);
}
legendRow(232, 272, 451, "#ff0000", "GGA", 292, 467, 46.5);
legendRow(232, 272, 504, "#0000ff", "GGA+SOC", 292, 520, 46.5);
legendRow(610, 649, 663, "#ff0000", "W (all atoms)", 687, 676, 48);
legendRow(610, 649, 720, "#ffa500", "W15-20", 687, 737, 48);

// Band structure
var bandLine = d3.line()
  .x(d => xBand(d[0]))
  .y(d => yEnergy(d[1]))
  .curve(d3.curveMonotoneX);

var bandGroup = svg.append("g").attr("clip-path", "url(#clipBand)");

function drawBands(kNodes, rows, width) {
  bandGroup.append("g").selectAll("path")
    .data(rows)
    .enter()
    .append("path")
    .attr("fill", "none")
    .attr("stroke", "#000")
    .attr("stroke-width", width)
    .attr("d", row => bandLine(row.map((e, i) => [kNodes[i], e])));
}

drawBands(bandK, bandsUpper, 6.5);
drawBands(bandK, bandsHumpTop, 7);
drawBands(bandK, bandsHumpLow, 12);
drawBands(bandK, bandsDeep, 8);
drawBands(bandK, bandsMid, 9.5);
drawBands(pathK, bandsFlat, 7);
domeSegments.forEach(function(s) { drawBands(s[0], [s[1]], 7); });
drawBands(weaveK1, weaveE1, 6.5);
drawBands(weaveK2, weaveE2, 6.5);
drawBands(weaveK3, weaveE3, 6.5);

// High symmetry lines and their labels
var labelShift = [4, 1, 4, 2, 7, 2, 4, 3, -13, -11, 5];
var pathAxis = svg.append("g")
  .attr("transform", `translate(0,${yEnergy(-9)})`)
  .call(d3.axisBottom(xBand).tickValues(pathK).tickSize(0).tickPadding(20).tickFormat((d, i) => pathLabels[i]));
pathAxis.select(".domain").remove();
pathAxis.selectAll("text")
  .attr("font-family", "Liberation Serif").attr("font-size", 54).attr("fill", "#000")
  .attr("text-anchor", "start")
  .attr("dx", (d, i) => labelShift[i]);

styleAxis(svg.append("g").attr("transform", `translate(0,${yEnergy(4)})`)
  .call(d3.axisBottom(xBand).tickValues(pathK).tickSize(yEnergy(-9) - yEnergy(4)).tickFormat("")), 4.5);

var bandFrame = svg.append("g");
styleAxis(bandFrame.append("g").attr("transform", `translate(${xBand(0)},0)`)
  .call(d3.axisLeft(yEnergy).tickValues(energyMinor).tickSize(-17).tickFormat("")), lineFrame);
styleAxis(bandFrame.append("g").attr("transform", `translate(${xBand(1053.5)},0)`)
  .call(d3.axisRight(yEnergy).tickValues(energyMinor).tickSize(-17).tickFormat("")), lineFrame);
bandFrame.append("rect")
  .attr("x", xBand(0)).attr("y", yEnergy(4))
  .attr("width", xBand(1053.5) - xBand(0)).attr("height", yEnergy(-9) - yEnergy(4))
  .attr("fill", "none").attr("stroke", "#000").attr("stroke-width", lineFrame);

// Brillouin zone
var zoneGroup = svg.append("g");

function zoneLines(rows, width) {
  zoneGroup.append("g").selectAll("line")
    .data(rows).enter().append("line")
    .attr("x1", d => zoneX(d[0])).attr("y1", d => zoneY(d[1]))
    .attr("x2", d => zoneX(d[2])).attr("y2", d => zoneY(d[3]))
    .attr("stroke", "#000").attr("stroke-width", width);
}
zoneLines(zoneHeavy, 9);
zoneLines(zoneLight, 5);
zoneLines(zoneEdges, 4.5);
zoneLines(zoneFrontEdge, 7.5);

zoneGroup.append("g").selectAll("ellipse")
  .data(zoneDots).enter().append("ellipse")
  .attr("cx", d => zoneX(d[0])).attr("cy", d => zoneY(d[1])).attr("rx", 12).attr("ry", 11).attr("fill", "#000");

var diamondShape = d3.symbol().type(d3.symbolDiamond2).size(150);
zoneGroup.append("g").selectAll("path")
  .data(zoneDiamonds).enter().append("path")
  .attr("transform", d => `translate(${zoneX(d[0])},${zoneY(d[1])})`)
  .attr("d", diamondShape).attr("fill", "#000");

function arrowHead(x1, y1, x2, y2, length, half, color) {
  var a = Math.atan2(y2 - y1, x2 - x1);
  var bx = x2 - length * Math.cos(a), by = y2 - length * Math.sin(a);
  var px = half * Math.sin(a), py = half * Math.cos(a);
  zoneGroup.append("polygon")
    .attr("points", [[x2, y2], [bx + px, by - py], [bx - px, by + py]].map(p => p.join(",")).join(" "))
    .attr("fill", color);
}

var zoneGreen = "#00ff66";
d3.pairs(zonePath).forEach(function(p) {
  var x1 = zoneX(p[0][0]), y1 = zoneY(p[0][1]), x2 = zoneX(p[1][0]), y2 = zoneY(p[1][1]);
  zoneGroup.append("line").attr("x1", x1).attr("y1", y1).attr("x2", x2).attr("y2", y2)
    .attr("stroke", zoneGreen).attr("stroke-width", 8);
  arrowHead(x1, y1, x2, y2, 42, 14, zoneGreen);
});
zoneGroup.append("g").selectAll("circle")
  .data(zonePath).enter().append("circle")
  .attr("cx", d => zoneX(d[0])).attr("cy", d => zoneY(d[1])).attr("r", 12).attr("fill", zoneGreen);

var vectorWidths = [7, 3, 5.5];
var vectorHeads = [[42, 14], [30, 8], [42, 12]];
zoneVectors.forEach(function(v, i) {
  var x1 = zoneX(v[0]), y1 = zoneY(v[1]), x2 = zoneX(v[2]), y2 = zoneY(v[3]);
  zoneGroup.append("line").attr("x1", x1).attr("y1", y1).attr("x2", x2).attr("y2", y2)
    .attr("stroke", "#0000ff").attr("stroke-width", vectorWidths[i]);
  arrowHead(x1, y1, x2, y2, vectorHeads[i][0], vectorHeads[i][1], "#0000ff");
});

zoneGroup.append("g").selectAll("text")
  .data(zoneLabels).enter().append("text")
  .attr("x", (d, i) => zoneX(zoneLabelSpots[i][0])).attr("y", (d, i) => zoneY(zoneLabelSpots[i][1]))
  .style("font-family", "DejaVu Sans").attr("font-size", 64)
  .text(d => d);

zoneGroup.append("g").selectAll("text")
  .data(vectorLabels).enter().append("text")
  .attr("x", (d, i) => zoneX(vectorLabelSpots[i][0])).attr("y", (d, i) => zoneY(vectorLabelSpots[i][1]))
  .style("font-family", "DejaVu Sans").style("fill", "#0000ff").attr("font-size", 26)
  .text(d => d);
</script>
</body>
</html>
